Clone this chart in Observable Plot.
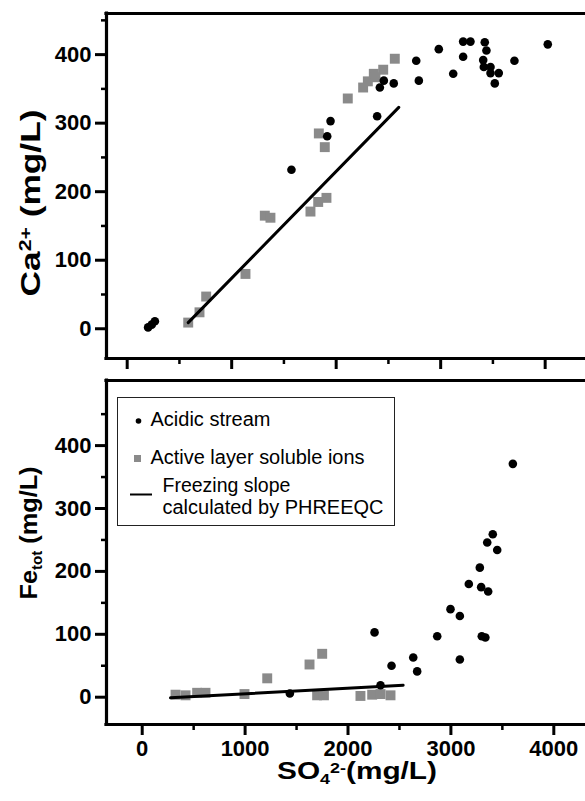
<!DOCTYPE html>
<html><head><meta charset="utf-8">
<script src="https://cdn.jsdelivr.net/npm/d3@7"></script>
<script src="https://cdn.jsdelivr.net/npm/@observablehq/plot@0.6"></script>
<style>
body{margin:0;background:#fff;}
#wrap{position:relative;width:585px;height:801px;overflow:hidden;background:#fff}
#wrap > svg{position:absolute;left:0;}
.legend{position:absolute;left:117px;top:397px;width:276px;height:127px;border:1.5px solid #222;background:#fff;}
.legend svg{position:absolute;left:0;top:0;}
</style></head><body><div id="wrap"></div>
<script>
// ---- Data ----
// Top panel: Ca2+ vs SO4 2-
const topAcidX = [200, 235, 265, 1572, 1946, 1914, 2392, 2418, 2456, 2551, 2766, 2791, 2982, 3120, 3215, 3285, 3215, 3422, 3438, 3407, 3413, 3477, 3477, 3556, 3518, 3706, 4025];
const topAcidY = [2, 6, 11, 232, 303, 281, 310, 352, 362, 358, 391, 362, 408, 372, 419, 419, 397, 418, 406, 392, 382, 382, 373, 373, 358, 391, 415];
const topActiveX = [584, 692, 756, 1132, 1317, 1371, 1754, 1828, 1907, 1834, 1891, 2111, 2258, 2303, 2360, 2376, 2450, 2561];
const topActiveY = [9, 24, 47, 80, 165, 162, 171, 185, 191, 285, 265, 336, 352, 361, 372, 367, 378, 394];
const topSlopeX = [584, 2599];
const topSlopeY = [9, 323];
// Bottom panel: Fe_tot vs SO4 2-
const botAcidX = [1435, 2258, 2316, 2423, 2634, 2672, 2867, 2996, 3087, 3087, 3174, 3294, 3362, 3300, 3335, 3281, 3353, 3407, 3450, 3602];
const botAcidY = [6, 103, 19, 50, 63, 41, 97, 140, 129, 60, 180, 175, 168, 97, 95, 206, 246, 259, 234, 371];
const botActiveX = [324, 421, 534, 615, 994, 1215, 1626, 1749, 1700, 1766, 2121, 2235, 2316, 2413];
const botActiveY = [4, 3, 7, 7, 5, 30, 52, 69, 3, 3, 2, 4, 5, 3];
const botSlopeX = [275, 2536];
const botSlopeY = [-1, 19];
// Ticks
const xMajor = [0, 1000, 2000, 3000, 4000];
const xMinor = [500, 1500, 2500, 3500];
const yMajor = [0, 100, 200, 300, 400];
const yMinor = [50, 150, 250, 350, 450];
// Legend labels
const legendLabels = ["Acidic stream", "Active layer soluble ions", "Freezing slope", "calculated by PHREEQC"];

const zipXY = (xs, ys) => xs.map((x, i) => ({x, y: ys[i]}));

const GRAY = "#8a8a8a";
const FONT = "'Liberation Sans', Arial, Helvetica, sans-serif";

function panel({width, height, mt, mb, xDomain, yDomain, acid, active, slope, xLabels}) {
  return Plot.plot({
    width, height,
    marginTop: mt, marginBottom: mb, marginLeft: 106, marginRight: 0,
    x: {domain: xDomain},
    y: {domain: yDomain},
    style: {fontFamily: FONT, fontSize: "22px", fontWeight: "bold", color: "#000", background: "transparent", overflow: "visible"},
    marks: [
      Plot.axisY({ticks: yMajor, tickSize: 11, tickPadding: 4, strokeWidth: 3, label: null, fontSize: 22, fontWeight: "bold"}),
      Plot.axisY({ticks: yMinor, tickSize: 5, strokeWidth: 2.5, tickFormat: () => "", label: null}),
      Plot.axisX({ticks: xMajor, tickSize: 11, tickPadding: 5, strokeWidth: 3, label: null, fontSize: 22, fontWeight: "bold",
        tickFormat: xLabels ? (d => String(d)) : (() => "")}),
      Plot.axisX({ticks: xMinor, tickSize: 6, strokeWidth: 2.5, tickFormat: () => "", label: null}),
      Plot.ruleY(yDomain, {stroke: "#000", strokeWidth: 3.2, strokeLinecap: "square"}),
      Plot.ruleX([xDomain[0]], {stroke: "#000", strokeWidth: 3.2, strokeLinecap: "square"}),
      Plot.dot(active, {x: "x", y: "y", symbol: "square", r: 5.6, fill: GRAY, stroke: "none"}),
      Plot.dot(acid, {x: "x", y: "y", r: 4.3, fill: "#000", stroke: "none"}),
      Plot.line(slope, {x: "x", y: "y", stroke: "#000", strokeWidth: 3})
    ]
  });
}

function addTitle(svg, parts, {x, y, rotate, size, length, supShift = 0.3}) {
  const t = d3.select(svg).append("text")
    .attr("transform", `translate(${x},${y})` + (rotate ? ` rotate(${rotate})` : ""))
    .attr("text-anchor", "middle")
    .attr("font-family", FONT)
    .attr("font-weight", "bold")
    .attr("font-size", size)
    .attr("fill", "#000");
  if (length) t.attr("textLength", length).attr("lengthAdjust", "spacingAndGlyphs");
  let shift = 0;
  for (const p of parts) {
    const target = p.sup ? -supShift * size : p.sub ? 0.2 * size : 0;
    const s = t.append("tspan").text(p.t).attr("dy", target - shift);
    if (p.sup || p.sub) s.attr("font-size", size * 0.6);
    shift = target;
  }
}

const wrap = document.getElementById("wrap");

const topSvg = panel({
  width: 585, height: 372, mt: 13, mb: 14,
  xDomain: [-198, 4386], yDomain: [-43.4, 460],
  acid: zipXY(topAcidX, topAcidY), active: zipXY(topActiveX, topActiveY), slope: zipXY(topSlopeX, topSlopeY),
  xLabels: false
});
topSvg.style.top = "0px";
wrap.appendChild(topSvg);
addTitle(topSvg, [{t: "Ca"}, {t: "2+", sup: true}, {t: " (mg/L)"}], {x: 40, y: 203, rotate: -90, size: 27, length: 187, supShift: 0.32});

const botSvg = panel({
  width: 585, height: 429, mt: 8, mb: 77,
  xDomain: [-347, 4308], yDomain: [-43.4, 503.5],
  acid: zipXY(botAcidX, botAcidY), active: zipXY(botActiveX, botActiveY), slope: zipXY(botSlopeX, botSlopeY),
  xLabels: true
});
botSvg.style.top = "372px";
wrap.appendChild(botSvg);
addTitle(botSvg, [{t: "Fe"}, {t: "tot", sub: true}, {t: " (mg/L)"}], {x: 37, y: 161, rotate: -90, size: 24, length: 133});
addTitle(botSvg, [{t: "SO"}, {t: "4", sub: true}, {t: "2-", sup: true}, {t: "(mg/L)"}], {x: 357, y: 407, size: 23, length: 160, supShift: 0.26});

// Legend
const leg = document.createElement("div");
leg.className = "legend";
wrap.appendChild(leg);
const ls = d3.select(leg).append("svg").attr("width", 276).attr("height", 127)
  .attr("font-family", FONT).attr("font-size", 19.5);
ls.append("circle").attr("cx", 20.5).attr("cy", 23).attr("r", 2.8).attr("fill", "#000");
ls.append("text").attr("x", 32.5).attr("y", 28).attr("textLength", 120).attr("lengthAdjust", "spacingAndGlyphs").text(legendLabels[0]);
ls.append("rect").attr("x", 16).attr("y", 57).attr("width", 7).attr("height", 7).attr("fill", GRAY);
ls.append("text").attr("x", 32.5).attr("y", 66).attr("textLength", 214).attr("lengthAdjust", "spacingAndGlyphs").text(legendLabels[1]);
ls.append("line").attr("x1", 12).attr("x2", 34).attr("y1", 96.5).attr("y2", 96.5).attr("stroke", "#000").attr("stroke-width", 2);
ls.append("text").attr("x", 44.5).attr("y", 93.5).text(legendLabels[2]);
ls.append("text").attr("x", 44.5).attr("y", 115.5).attr("textLength", 221).attr("lengthAdjust", "spacingAndGlyphs").text(legendLabels[3]);
</script>
</body></html>
